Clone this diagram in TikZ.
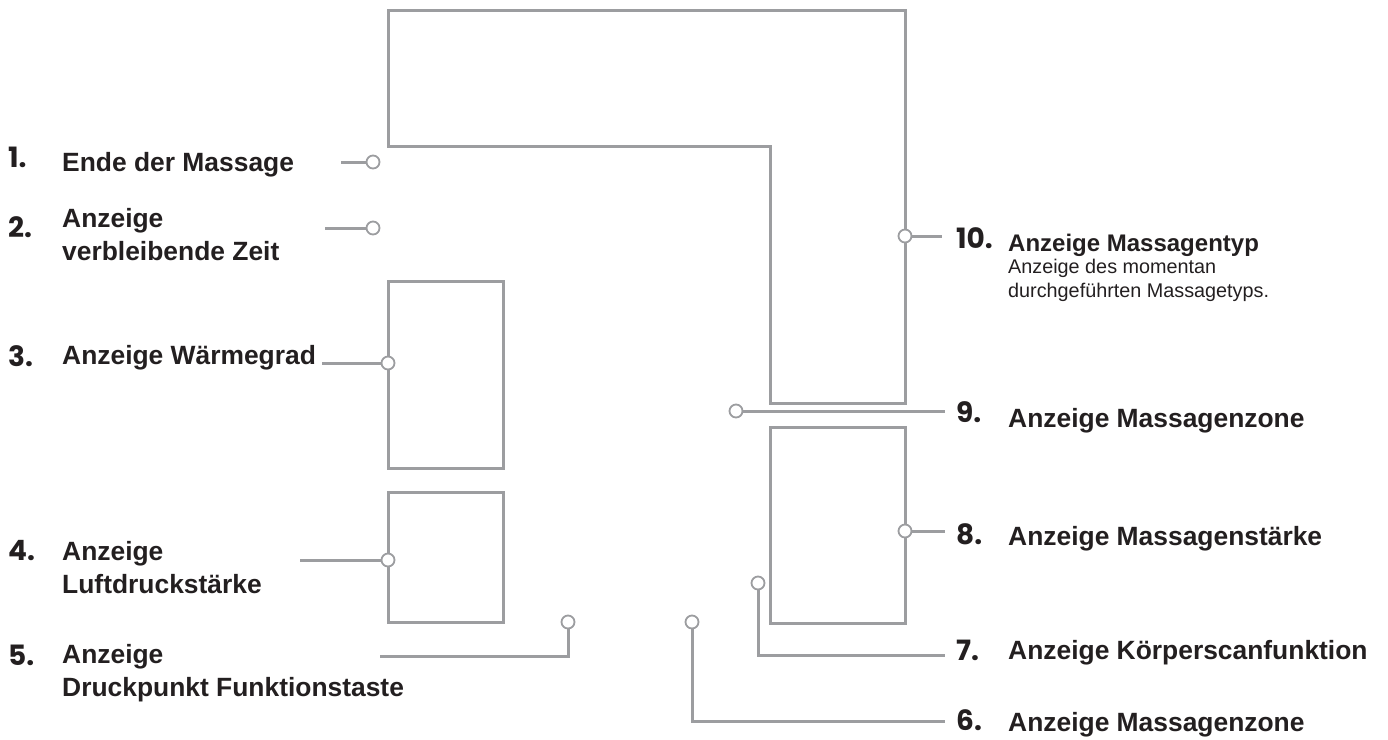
\documentclass[tikz,border=0pt]{standalone}
\usepackage{fontspec}
\setmainfont{Liberation Sans}
\newfontfamily\numfont{Poppins}
\definecolor{linegray}{HTML}{9C9DA0}
\definecolor{txt}{HTML}{231F20}
\tikzset{
  x=1pt, y=-1pt,
  outline/.style={draw=linegray, line width=3pt, line join=miter},
  lead/.style={draw=linegray, line width=3pt},
  dot/.style={circle, draw=linegray, line width=1.8pt, fill=white, minimum size=13pt, inner sep=0pt},
  lbl/.style={anchor=base west, inner sep=0pt, text=txt, font=\fontsize{26.4}{33}\selectfont\bfseries, align=left},
  num/.style={anchor=base west, inner sep=0pt, text=txt, font=\numfont\fontsize{28}{30}\selectfont\bfseries},
  sub/.style={anchor=base west, inner sep=0pt, text=txt, font=\fontsize{19.8}{24}\selectfont, align=left},
}
\begin{document}
\begin{tikzpicture}
\useasboundingbox (0,0) rectangle (1388,739);
% shapes
\draw[outline] (388,10) -- (905,10) -- (905,403) -- (770,403) -- (770,146) -- (388,146) -- cycle;
\draw[outline] (388,281) rectangle (503,468);
\draw[outline] (388,492) rectangle (503,622);
\draw[outline] (770,427) rectangle (905,623);

% dots
\node[dot] (d1) at (373,162) {};
\node[dot] (d2) at (373,228) {};
\node[dot] (d3) at (388,363) {};
\node[dot] (d4) at (388,560) {};
\node[dot] (d5) at (568,622) {};
\node[dot] (d6) at (692,622) {};
\node[dot] (d7) at (758,583) {};
\node[dot] (d8) at (905,531) {};
\node[dot] (d9) at (736,411) {};
\node[dot] (d10) at (905,236) {};

% lead ends
\coordinate (e1) at (341,162);
\coordinate (e2) at (325,228);
\coordinate (e3) at (322,363);
\coordinate (e4) at (300,560);
\coordinate (e5) at (380,656);
\coordinate (e6) at (945,721);
\coordinate (e7) at (945,655);
\coordinate (e8) at (945,531);
\coordinate (e9) at (945,411);
\coordinate (e10) at (942,236);

\draw[lead] (e1) -- (d1.west);
\draw[lead] (e2) -- (d2.west);
\draw[lead] (e3) -- (d3.west);
\draw[lead] (e4) -- (d4.west);
\draw[lead] (e5) -| (d5.south);
\draw[lead] (d6.south) |- (e6);
\draw[lead] (d7.south) |- (e7);
\draw[lead] (d8.east) -- (e8);
\draw[lead] (d9.east) -- (e9);
\draw[lead] (d10.east) -- (e10);

% numbers
\node[num] (n1) at (8,167) {1.};
\node[num] (n2) at (8,237) {2.};
\node[num] (n3) at (8,366) {3.};
\node[num] (n4) at (8,560) {4.};
\node[num] (n5) at (8,665) {5.};
\node[num] (n6) at (956,730) {6.};
\node[num] (n7) at (956,660) {7.};
\node[num] (n8) at (956,544) {8.};
\node[num] (n9) at (956,422) {9.};
\node[num] (n10) at (956,248) {10.};

% labels
\node[lbl] (t1) at (62,171) {Ende der Massage};
\node[lbl] (t2) at (62,260) {Anzeige\\verbleibende Zeit};
\node[lbl] (t3) at (62,364) {Anzeige Wärmegrad};
\node[lbl] (t4) at (62,593) {Anzeige\\Luftdruckstärke};
\node[lbl] (t5) at (62,696) {Anzeige\\Druckpunkt Funktionstaste};
\node[lbl] (t6) at (1008,731) {Anzeige Massagenzone};
\node[lbl] (t7) at (1008,659) {Anzeige Körperscanfunktion};
\node[lbl] (t8) at (1008,545) {Anzeige Massagenstärke};
\node[lbl] (t9) at (1008,427) {Anzeige Massagenzone};
\node[lbl, font=\fontsize{24}{28}\selectfont\bfseries] (t10) at (1008,251) {Anzeige Massagentyp};
\node[sub] (s10) at (1008,297) {Anzeige des momentan\\durchgeführten Massagetyps.};
\end{tikzpicture}
\end{document}
